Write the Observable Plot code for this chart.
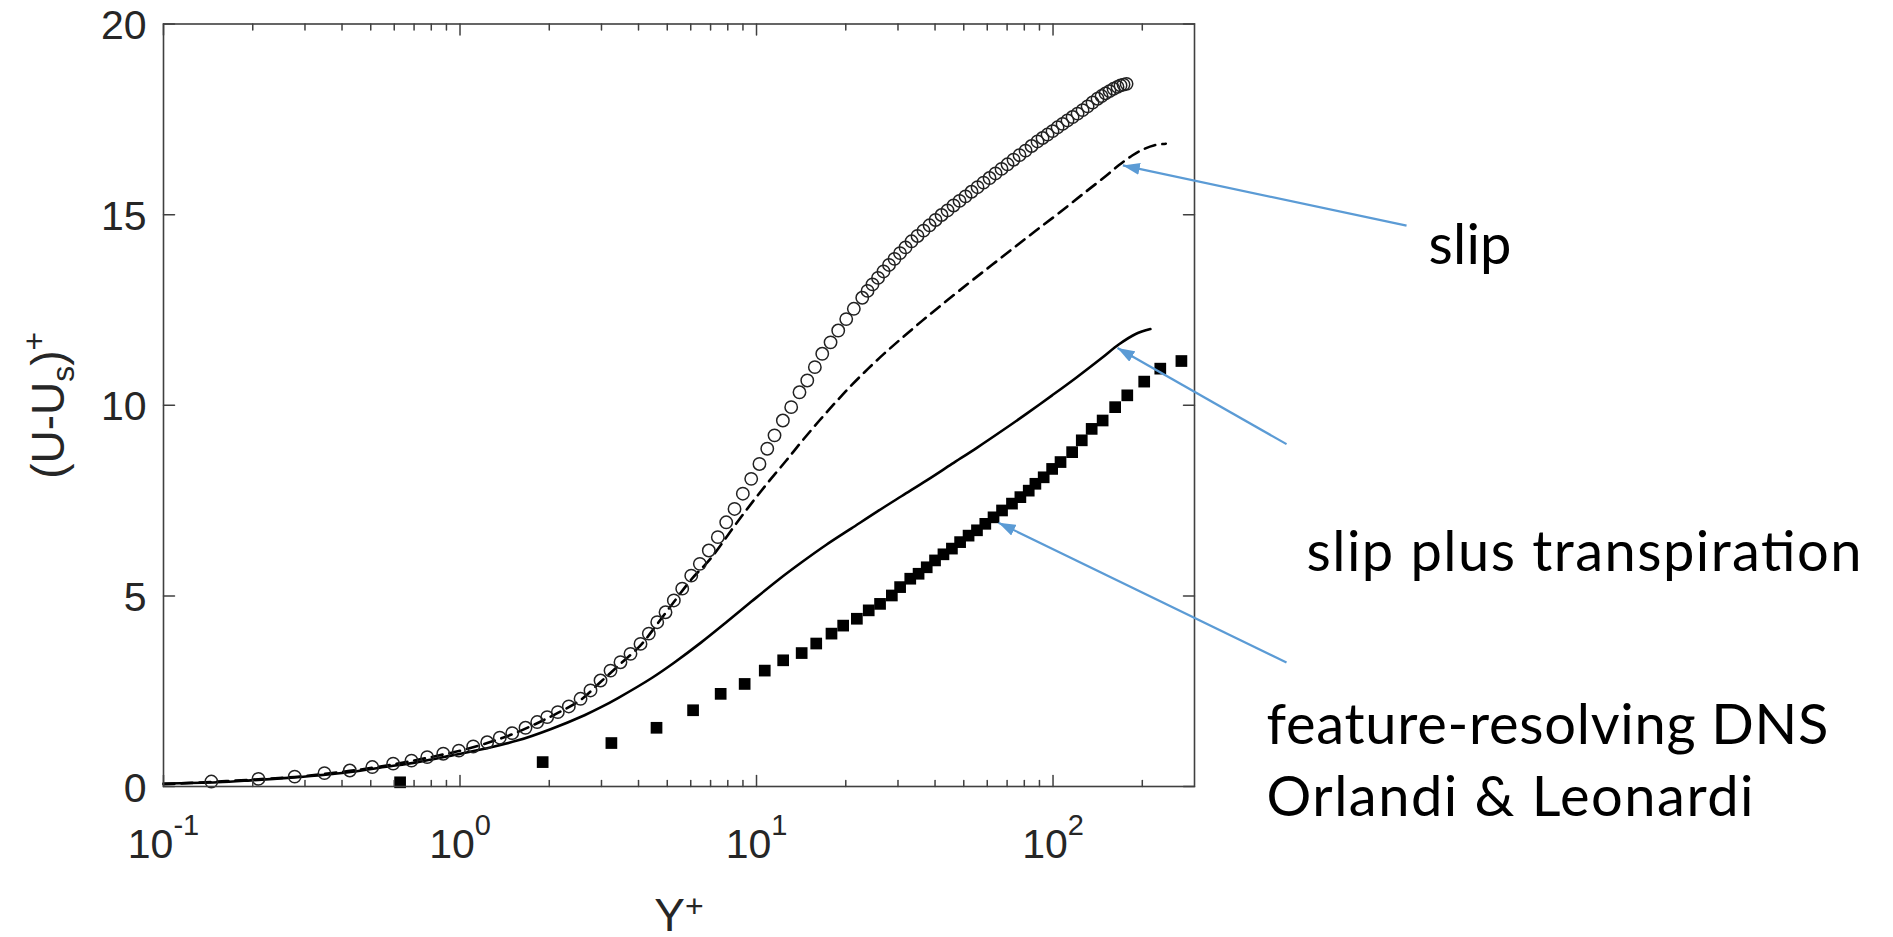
<!DOCTYPE html>
<html>
<head>
<meta charset="utf-8">
<script src="https://cdn.jsdelivr.net/npm/d3@7"></script>
<script src="https://cdn.jsdelivr.net/npm/@observablehq/plot@0.6"></script>
<style>
html, body { margin: 0; padding: 0; background: #fff; }
svg { display: block; }
</style>
</head>
<body>
<div id="chart"></div>
<script>
// ---------- data (Y+, (U-Us)+) ----------
const slipCircles = [
  [0.145,0.13],[0.209,0.20],[0.277,0.26],[0.349,0.35],[0.425,0.42],[0.506,0.51],[0.595,0.60],[0.686,0.68],
  [0.775,0.77],[0.878,0.86],[0.991,0.94],[1.108,1.05],[1.235,1.16],[1.362,1.28],[1.50,1.40],[1.663,1.54],
  [1.821,1.69],[1.968,1.82],[2.137,1.95],[2.328,2.10],[2.55,2.30],[2.755,2.52],[2.978,2.78],[3.218,3.04],
  [3.477,3.26],[3.758,3.48],[4.062,3.74],[4.333,4.01],[4.625,4.31],[4.933,4.57],[5.262,4.88],[5.616,5.19],
  [6.024,5.53],[6.439,5.84],[6.904,6.19],[7.404,6.54],[7.903,6.93],[8.43,7.28],[8.992,7.68],[9.596,8.07],
  [10.23,8.46],[10.87,8.86],[11.50,9.21],[12.27,9.60],[13.09,9.95],[13.96,10.34],[14.83,10.65],[15.73,11.00],
  [16.66,11.35],[17.77,11.65],[18.86,11.96],[20.07,12.26],[21.29,12.53],[22.73,12.82],[23.68,13.00],[24.61,13.17],
  [25.69,13.34],[26.81,13.51],[27.98,13.68],[29.20,13.84],[30.48,13.99],[31.81,14.14],[33.33,14.30],[34.91,14.44],
  [36.58,14.58],[38.33,14.72],[40.16,14.86],[42.07,14.99],[44.08,15.11],[46.18,15.24],[48.38,15.36],[50.69,15.48],
  [53.10,15.60],[55.65,15.72],[58.29,15.84],[61.07,15.96],[63.99,16.08],[67.04,16.20],[70.22,16.32],[73.58,16.44],
  [77.09,16.56],[80.79,16.68],[84.63,16.80],[88.66,16.92],[92.18,17.01],[95.83,17.10],[99.61,17.19],[103.6,17.29],
  [107.7,17.38],[111.9,17.47],[116.4,17.56],[121.0,17.65],[125.8,17.74],[130.8,17.84],[135.9,17.94],[141.3,18.04],
  [145.8,18.11],[150.4,18.18],[155.1,18.24],[160.0,18.30],[165.0,18.35],[168.9,18.39],[172.9,18.41],[177.0,18.43]
];

const slipDashed = [
  [0.1,0.06],[0.145,0.12],[0.209,0.19],[0.277,0.25],[0.349,0.33],[0.425,0.41],[0.506,0.49],[0.595,0.58],
  [0.686,0.67],[0.775,0.75],[0.878,0.84],[0.991,0.93],[1.235,1.14],[1.50,1.37],[1.821,1.66],[2.137,1.93],
  [2.55,2.27],[2.978,2.74],[3.477,3.22],[4.062,3.70],[4.625,4.26],[5.262,4.84],[6.024,5.43],[7.0,5.98],
  [8.4,6.82],[9.6,7.42],[11.0,8.0],[12.6,8.55],[14.2,9.05],[16.3,9.6],[18.4,10.06],[21.0,10.54],
  [23.8,10.96],[27.0,11.36],[30.9,11.76],[36.0,12.2],[42.2,12.64],[51.9,13.2],[62.0,13.67],[74.0,14.14],
  [87.2,14.57],[105,15.05],[128,15.58],[150,16.0],[167,16.3],[185,16.55],[200,16.7],[220,16.82],[240,16.86]
];

const slipTranspiration = [
  [0.1,0.08],[0.152,0.11],[0.197,0.16],[0.255,0.22],[0.33,0.29],[0.428,0.38],[0.555,0.51],[0.719,0.64],
  [0.933,0.81],[1.21,0.99],[1.57,1.21],[2.03,1.51],[2.63,1.87],[2.99,2.08],[3.41,2.32],[4.42,2.84],
  [5.3,3.26],[6.51,3.78],[8.0,4.34],[9.61,4.85],[11.8,5.41],[14.2,5.88],[17.2,6.34],[20.9,6.77],
  [25.5,7.21],[30.9,7.62],[37.5,8.03],[45.6,8.46],[55.5,8.89],[67.3,9.33],[81.5,9.78],[99.3,10.26],
  [120,10.73],[146,11.24],[167,11.6],[190,11.87],[213,12.0]
];

const dnsSquares = [
  [0.628,0.11],[1.9,0.64],[3.24,1.14],[4.6,1.54],[6.11,2.0],[7.57,2.43],[9.12,2.69],[10.66,3.04],
  [12.3,3.31],[14.2,3.50],[15.9,3.75],[17.9,4.01],[19.6,4.22],[21.8,4.40],[23.9,4.62],[26.1,4.79],
  [28.6,5.01],[30.5,5.23],[33.0,5.45],[35.2,5.58],[37.5,5.75],[40.0,5.93],[42.7,6.09],[45.6,6.24],
  [48.6,6.41],[51.9,6.58],[55.4,6.72],[59.1,6.89],[63.0,7.06],[67.3,7.24],[72.7,7.42],[77.6,7.59],
  [82.8,7.76],[87.2,7.94],[93.0,8.11],[99.3,8.33],[106,8.51],[116,8.77],[125,9.08],[135,9.38],
  [147,9.60],[162,9.95],[178,10.26],[203,10.62],[230,10.96],[271,11.16]
];

// axes
const xDomain = [0.1, 300];
const yDomain = [0, 20];
const xMajorTicks = [0.1, 1, 10, 100];
const xMinorTicks = [0.2,0.3,0.4,0.5,0.6,0.7,0.8,0.9, 2,3,4,5,6,7,8,9, 20,30,40,50,60,70,80,90, 200];
const yTicks = [0, 5, 10, 15, 20];

// annotation arrows (tail -> head, in data units)
const arrows = [
  {x1: 1557, y1: 14.71, x2: 172, y2: 16.29},
  {x1: 613,  y1: 8.98,  x2: 165, y2: 11.50},
  {x1: 613,  y1: 3.25,  x2: 65.5, y2: 6.92}
];
const annotationText = ["slip", "slip plus transpiration", "feature-resolving DNS", "Orlandi & Leonardi"];

// ---------- layout ----------
const W = 1893, H = 937;
const mL = 163, mR = W - 1194, mT = 23.5, mB = H - 786;
const axisColor = "#404040";
const textColor = "#262626";
const annotLayout = [ // left, baseline, width in px
  {left: 1428, baseline: 263, width: 83},
  {left: 1306, baseline: 570, width: 555},
  {left: 1266, baseline: 743, width: 562},
  {left: 1266, baseline: 815, width: 487}
];

const tickShape = {draw(context, l) { context.moveTo(0, 0); context.lineTo(0, -l); }};
const tk = {anchor: "start", shape: tickShape, stroke: axisColor, strokeWidth: 1.5};

const chart = Plot.plot({
  width: W, height: H,
  marginLeft: mL, marginRight: mR, marginTop: mT, marginBottom: mB,
  style: {fontFamily: "'Liberation Sans', Arial, sans-serif", color: textColor, background: "white", overflow: "visible"},
  x: {type: "log", domain: xDomain},
  y: {domain: yDomain},
  marks: [
    // data
    Plot.line(slipTranspiration, {x: d => d[0], y: d => d[1], stroke: "#000", strokeWidth: 2.6, curve: "catmull-rom"}),
    Plot.line(slipDashed, {x: d => d[0], y: d => d[1], stroke: "#000", strokeWidth: 2.6, strokeDasharray: "11,7", curve: "catmull-rom"}),
    Plot.dot(slipCircles, {x: d => d[0], y: d => d[1], r: 6.2, stroke: "#222", strokeWidth: 1.5, fill: "none"}),
    Plot.dot(dnsSquares, {x: d => d[0], y: d => d[1], symbol: "square", r: 6.6, fill: "#000", stroke: "none"}),
    // ticks (inward, all four sides)
    Plot.vector(xMajorTicks, {x: d => d, y: () => yDomain[0], length: 11, rotate: 0, ...tk}),
    Plot.vector(xMajorTicks, {x: d => d, y: () => yDomain[1], length: 11, rotate: 180, ...tk}),
    Plot.vector(xMinorTicks, {x: d => d, y: () => yDomain[0], length: 6, rotate: 0, ...tk}),
    Plot.vector(xMinorTicks, {x: d => d, y: () => yDomain[1], length: 6, rotate: 180, ...tk}),
    Plot.vector(yTicks, {x: () => xDomain[0], y: d => d, length: 11, rotate: 90, ...tk}),
    Plot.vector(yTicks, {x: () => xDomain[1], y: d => d, length: 11, rotate: -90, ...tk}),
    Plot.frame({stroke: axisColor, strokeWidth: 1.6}),
    // tick labels
    Plot.axisY({ticks: yTicks, tickSize: 0, tickPadding: 17, fontSize: 41, label: null, dy: 2}),
    Plot.axisX({ticks: xMajorTicks, tickSize: 0, tickPadding: 42, fontSize: 41, label: null,
      tickFormat: d => String(Math.round(Math.log10(d)))}),
    // axis titles
    Plot.text(["Y"], {text: d => d, frameAnchor: "bottom", dy: 144, lineAnchor: "bottom", fontSize: 46, ariaDescription: "xlabel"}),
    Plot.text(["(U-U"], {text: d => d, frameAnchor: "left", dx: -114, rotate: -90, lineAnchor: "middle", textAnchor: "middle", fontSize: 46, ariaDescription: "ylabel"}),
    // annotations
    Plot.link(arrows, {x1: "x1", y1: "y1", x2: "x2", y2: "y2", stroke: "#5B9BD5", strokeWidth: 2.2, ariaDescription: "arrows"}),
    ...annotationText.map((t, i) => Plot.text([t], {
      text: d => d, frameAnchor: "top-left",
      dx: annotLayout[i].left - mL, dy: annotLayout[i].baseline - mT,
      lineAnchor: "bottom", textAnchor: "start", fontSize: 56, fontFamily: "Lato, 'Open Sans', sans-serif",
      fill: "#000", ariaDescription: "annotation" + i
    }))
  ]
});

document.getElementById("chart").appendChild(chart);

// ---------- post-processing: rich text, font sizes and arrowheads ----------
function rich(textEl, parts) {
  const sel = d3.select(textEl);
  sel.text(null);
  let cur = 0;
  for (const p of parts) {
    const t = sel.append("tspan").text(p.t);
    const shift = p.shift || 0;
    if (shift !== cur) t.attr("dy", shift - cur);
    if (p.size) t.attr("font-size", p.size);
    cur = shift;
  }
}
const svg = d3.select(chart);
svg.selectAll('g[aria-label="y-axis tick label"]').attr("font-size", 41)
  .selectAll("text").style("font-size", "41px");
svg.selectAll('g[aria-label="x-axis tick label"]').attr("font-size", 41)
  .selectAll("text").style("font-size", "41px").each(function() {
    const e = this.textContent.replace("\u2212", "-");
    rich(this, [{t: "10"}, {t: e, size: 29, shift: -23}]);
  });
svg.selectAll('g[aria-description="xlabel"] text').each(function() {
  rich(this, [{t: "Y"}, {t: "+", size: 32, shift: -14}]);
});
svg.selectAll('g[aria-description="ylabel"] text').each(function() {
  rich(this, [{t: "(U-U"}, {t: "s", size: 32, shift: 10}, {t: ")"}, {t: "+", size: 32, shift: -19}]);
});
annotLayout.forEach((a, i) => {
  svg.selectAll(`g[aria-description="annotation${i}"] text`)
    .attr("textLength", a.width).attr("lengthAdjust", "spacing");
});
const defs = svg.insert("defs", ":first-child");
defs.append("marker")
  .attr("id", "ahead").attr("viewBox", "0 0 17 12").attr("refX", 17).attr("refY", 6)
  .attr("markerWidth", 17).attr("markerHeight", 12).attr("markerUnits", "userSpaceOnUse").attr("orient", "auto")
  .append("path").attr("d", "M0,0L17,6L0,12Z").attr("fill", "#5B9BD5");
svg.selectAll('g[aria-description="arrows"] path, g[aria-description="arrows"] line').attr("marker-end", "url(#ahead)");
</script>
</body>
</html>
